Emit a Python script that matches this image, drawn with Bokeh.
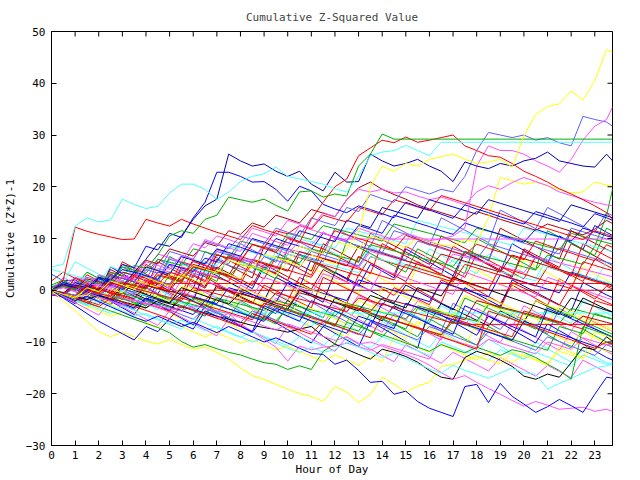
import math
from bokeh.plotting import figure
from bokeh.models import FixedTicker, Range1d, Title
from bokeh.embed import file_html
from bokeh.resources import INLINE

hours = [0, 0.5, 1, 1.5, 2, 2.5, 3, 3.5, 4, 4.5, 5, 5.5, 6, 6.5, 7, 7.5,
         8, 8.5, 9, 9.5, 10, 10.5, 11, 11.5, 12, 12.5, 13, 13.5, 14, 14.5, 15, 15.5,
         16, 16.5, 17, 17.5, 18, 18.5, 19, 19.5, 20, 20.5, 21, 21.5, 22, 22.5, 23, 23.5,
         23.75]
x_min, x_max = 0, 23.75
y_min, y_max = -30, 50
x_ticks = list(range(0, 24))
y_ticks = [-30, -20, -10, 0, 10, 20, 30, 40, 50]

RED = "#ff0000"; GREEN = "#00b000"; BLUE = "#0000ff"; LBLUE = "#6060ff"; NAVY = "#0000b0"
MAG = "#ff50ff"; CYAN = "#50ffff"; YEL = "#ffff00"; BLACK = "#000000"; DRED = "#b00000"

s01 = [0, -0.8, -1.5, 0.5, -0.3, 1.8, 1.0, 0.2,
       2.5, 1.6, 0.8, 3.0, 2.1, 1.2, 4.0, 3.1,
       2.2, 4.6, 3.8, 2.9, 5.5, 4.6, 6.8, 5.9,
       5.0, 8.0, 11.2, 20.0, 24.0, 23.0, 24.5, 24.0,
       25.3, 25.8, 26.3, 25.3, 24.5, 24.8, 25.3, 23.8,
       29.8, 34.0, 35.5, 36.0, 38.5, 36.8, 40.5, 46.5,
       46.0]
s02 = [4.5, 5.0, 12.4, 14.0, 13.2, 13.6, 17.6, 16.6,
       15.8, 16.2, 18.8, 20.5, 20.5, 19.5, 17.5, 19.0,
       21.0, 22.0, 22.5, 23.8, 22.0, 21.5, 21.0, 20.5,
       19.6, 19.0, 22.0, 26.0, 26.7, 27.0, 28.0, 27.0,
       26.0, 28.6, 28.6, 28.6, 28.6, 28.6, 28.6, 28.6,
       28.6, 28.6, 28.6, 28.6, 28.6, 28.6, 28.6, 28.6,
       28.6]
s03 = [0, 0.8, 0.2, 1.8, 1.2, 3.4, 2.8, 4.8,
       4.2, 6.8, 10.5, 11.5, 11.0, 13.7, 14.5, 18.0,
       17.5, 17.0, 17.6, 16.4, 15.3, 19.0, 19.2, 18.0,
       18.6, 18.2, 24.0, 26.3, 30.2, 29.2, 29.2, 29.2,
       29.2, 29.2, 29.2, 29.2, 29.2, 29.2, 29.2, 29.2,
       29.2, 29.2, 29.2, 29.2, 29.2, 29.2, 29.2, 29.2,
       29.2]
s04 = [0, -0.6, 0.8, 0.1, -0.6, 1.5, 0.8, 2.6,
       1.9, 1.2, 3.5, 2.8, 5.6, 4.8, 4.0, 6.5,
       5.7, 8.9, 8.1, 7.3, 10.0, 9.2, 13.7, 17.0,
       20.0, 21.5, 26.0, 27.5, 29.0, 28.5, 29.6, 28.6,
       29.0, 29.5, 30.0, 27.9, 27.0, 26.0, 25.7, 24.5,
       23.0, 22.0, 20.9, 19.6, 18.6, 17.5, 16.3, 15.0,
       13.7]
s05 = [0, 2.0, 12.2, 11.4, 10.8, 10.3, 9.8, 9.9,
       13.7, 13.0, 12.4, 13.7, 12.8, 12.0, 11.2, 10.5,
       9.8, 12.5, 11.7, 11.0, 10.2, 9.4, 8.7, 8.0,
       11.5, 10.7, 10.0, 9.3, 8.5, 7.8, 10.6, 9.8,
       9.0, 8.3, 7.5, 6.8, 8.9, 8.1, 7.4, 6.6,
       5.9, 9.5, 8.7, 7.9, 7.2, 6.4, 5.7, 8.8,
       8.3]
s06 = [0, -0.5, 1.0, 0.5, 2.5, 2.0, 4.0, 3.5,
       6.0, 9.0, 8.5, 10.5, 13.7, 16.3, 17.6, 26.3,
       25.0, 24.0, 24.4, 23.0, 22.0, 23.0, 20.5, 19.2,
       22.8, 20.9, 21.0, 26.3, 25.0, 24.0, 24.5, 25.3,
       24.0, 23.0, 21.0, 24.8, 24.0, 23.5, 24.5, 24.0,
       25.0, 25.5, 26.7, 25.0, 24.5, 24.0, 23.8, 26.3,
       25.0]
s07 = [0, 1.2, 0.5, -0.2, 2.4, 1.7, 5.0, 4.3,
       8.5, 7.8, 11.0, 10.2, 14.0, 17.0, 22.8, 22.8,
       22.0, 20.9, 21.0, 19.5, 17.2, 20.1, 19.2, 16.6,
       15.7, 15.0, 16.3, 15.6, 14.8, 14.0, 17.0, 16.2,
       15.5, 14.7, 13.9, 16.5, 15.7, 15.0, 14.2, 13.5,
       12.8, 15.2, 14.5, 13.7, 13.0, 12.2, 14.8, 14.0,
       13.5]
s08 = [0, -0.4, -1.0, 1.5, 0.8, 3.0, 2.3, 1.6,
       4.0, 3.3, 7.5, 6.8, 6.0, 9.5, 8.8, 8.0,
       10.5, 9.8, 9.0, 12.0, 11.2, 10.5, 14.0, 13.2,
       12.5, 16.0, 15.2, 18.5, 17.7, 17.0, 20.0, 19.3,
       18.6, 19.5, 19.0, 22.0, 27.0, 30.5, 30.0, 29.5,
       30.0, 29.0, 29.5, 28.5, 27.9, 33.6, 33.0, 32.5,
       31.7]
s09 = [0, 0.6, -0.2, 1.5, 0.8, 0.1, 2.8, 2.0,
       5.5, 4.8, 4.0, 6.7, 6.0, 9.8, 9.0, 8.2,
       7.5, 11.0, 10.2, 9.4, 8.7, 12.5, 11.7, 11.0,
       10.2, 9.5, 12.0, 11.2, 10.5, 9.8, 11.0, 10.3,
       9.6, 9.9, 10.5, 12.0, 24.0, 27.9, 27.0, 27.0,
       26.3, 25.0, 24.0, 22.8, 25.3, 29.0, 31.7, 33.0,
       35.4]
s10 = [0, -0.7, 1.2, 0.5, 3.0, 2.3, 1.6, 4.4,
       3.7, 7.0, 6.3, 5.5, 9.0, 8.2, 10.5, 9.8,
       9.0, 12.0, 11.3, 10.5, 13.5, 12.8, 12.0, 15.0,
       14.2, 17.5, 19.5, 19.0, 19.5, 18.8, 19.0, 18.2,
       17.5, 18.0, 17.3, 16.5, 19.0, 20.2, 19.5, 20.8,
       21.8, 21.0, 20.2, 19.0, 18.3, 17.6, 17.0, 16.5,
       16.3]
s11 = [0, -0.6, -1.2, -1.0, 0.8, 0.2, -0.5, 2.0,
       1.3, 0.6, 3.0, 2.3, 4.8, 4.1, 3.4, 5.8,
       5.1, 4.4, 7.0, 6.3, 5.6, 8.5, 7.8, 7.0,
       9.5, 8.8, 8.0, 10.5, 9.8, 9.0, 8.3, 10.2,
       9.5, 8.8, 8.5, 9.8, 9.2, 14.0, 21.8, 21.2,
       20.5, 20.9, 20.2, 19.5, 18.8, 19.0, 20.9, 20.3,
       20.1]
s12 = [0, 1.0, 0.4, 2.2, 1.6, 1.0, 3.5, 2.9,
       5.8, 5.1, 8.0, 7.3, 6.6, 9.2, 8.5, 11.5,
       10.8, 13.0, 12.2, 14.5, 13.8, 13.0, 15.6, 14.9,
       14.2, 17.5, 19.8, 20.9, 19.5, 18.5, 17.6, 16.5,
       15.7, 15.0, 14.3, 13.5, 15.2, 14.5, 13.7, 13.0,
       12.3, 11.6, 12.8, 12.1, 11.4, 10.7, 11.8, 13.5,
       12.9]
s13 = [0, -0.5, -1.0, 0.8, 0.2, -0.4, 1.5, 0.9,
       0.3, 3.0, 2.4, 1.8, 4.5, 3.9, 6.8, 6.2,
       5.6, 8.8, 8.2, 11.5, 10.9, 12.5, 11.8, 14.5,
       13.8, 13.2, 16.0, 15.3, 14.6, 17.5, 16.8, 16.1,
       15.4, 18.3, 17.6, 16.9, 16.2, 15.5, 14.8, 14.0,
       13.3, 12.6, 11.9, 11.2, 10.5, 9.8, 11.5, 10.8,
       10.4]
s14 = [0, 0.5, -0.2, 1.8, 1.1, 0.4, 2.5, 1.8,
       1.1, 4.2, 3.5, 2.8, 5.5, 4.8, 7.8, 7.1,
       6.4, 5.7, 8.5, 7.8, 7.1, 9.5, 8.8, 11.3,
       9.9, 9.9, 9.9, 9.9, 9.9, 9.9, 9.9, 9.9,
       9.9, 9.9, 9.9, 9.9, 9.9, 9.9, 9.9, 9.9,
       9.9, 9.9, 9.9, 9.9, 9.9, 9.9, 9.9, 9.9,
       9.9]
s15 = [0, 1.5, 0.8, 0.1, 2.2, 1.5, 0.8, 3.5,
       2.8, 2.1, 5.0, 4.3, 3.6, 6.2, 5.5, 9.0,
       8.3, 7.5, 6.8, 10.0, 9.2, 8.5, 7.8, 11.0,
       10.3, 9.6, 12.5, 11.8, 11.0, 14.5, 13.8, 13.0,
       12.3, 11.5, 10.8, 13.0, 12.2, 11.5, 10.8, 10.0,
       9.3, 11.8, 11.0, 10.3, 9.5, 12.0, 11.3, 10.5,
       10.2]
s16 = [0, -0.8, 0.5, -0.2, -0.9, 1.0, 0.3, -0.4,
       2.5, 1.8, 1.1, 4.0, 3.3, 2.6, 5.5, 4.8,
       4.1, 3.4, 6.5, 5.8, 5.1, 4.4, 7.5, 6.8,
       6.1, 5.4, 4.7, 8.0, 7.3, 6.6, 5.9, 9.5,
       8.8, 8.1, 7.4, 6.7, 6.0, 9.0, 8.3, 7.6,
       6.9, 6.2, 5.5, 8.2, 7.5, 6.8, 6.1, 5.4,
       5.1]
s17 = [0, -0.6, -1.2, 0.5, -0.1, 2.0, 1.4, 0.8,
       0.2, 2.8, 2.2, 1.6, 4.5, 3.9, 3.3, 2.7,
       5.0, 4.4, 3.8, 6.5, 5.9, 5.3, 8.0, 7.4,
       6.8, 6.2, 5.6, 8.8, 8.2, 7.6, 7.0, 6.4,
       5.8, 5.2, 4.6, 7.5, 6.9, 6.3, 5.7, 5.1,
       4.5, 3.9, 6.8, 6.2, 5.6, 5.0, 8.5, 14.5,
       19.5]
s18 = [4.0, 3.4, 2.8, 2.2, 1.6, 4.5, 3.9, 3.3,
       2.7, 2.1, 5.5, 4.9, 4.3, 3.7, 3.1, 6.0,
       5.4, 4.8, 4.2, 3.6, 7.0, 6.4, 5.8, 5.2,
       4.6, 4.0, 3.4, 6.5, 5.9, 5.3, 4.7, 4.1,
       3.5, 2.9, 6.0, 5.4, 4.8, 4.2, 3.6, 3.0,
       2.4, 1.8, 4.5, 3.9, 3.3, 2.7, 2.1, 1.5,
       1.2]
s19 = [0, -0.7, -1.4, 1.0, 0.3, 3.5, 2.8, 2.1,
       1.4, 0.7, 0.0, 4.5, 3.8, 3.1, 2.4, 1.7,
       5.5, 4.8, 4.1, 3.4, 7.0, 6.3, 5.6, 4.9,
       4.2, 3.5, 2.8, 6.5, 5.8, 5.1, 4.4, 3.7,
       3.0, 2.3, 1.6, 5.0, 4.3, 3.6, 2.9, 2.2,
       1.5, 0.8, 4.5, 3.8, 3.1, 2.4, 1.7, 1.0,
       0.6]
s20 = [0, -0.6, -1.2, -1.8, 0.5, -0.1, -0.7, 1.5,
       0.9, 0.3, -0.3, 0, 0, 0, 0, 0,
       0, 0, 0, 0, 0, 0, 0, 0,
       0, 0, 0, 0, 0, 0, 0, 0,
       0, 0, 0, 0, 0, 0, 0, 0,
       0, 0, 0, 0, 0, 0, 0, 0,
       0]
s21 = [0, 0.8, 0.2, 1.3, 1.3, 1.3, 1.3, 1.3,
       1.3, 1.3, 1.3, 1.3, 1.3, 1.3, 1.3, 1.3,
       1.3, 1.3, 1.3, 1.3, 1.3, 1.3, 1.3, 1.3,
       1.3, 1.3, 1.3, 1.3, 1.3, 1.3, 1.3, 1.3,
       1.3, 1.3, 1.3, 1.3, 1.3, 1.3, 1.3, 1.3,
       1.3, 1.3, 1.3, 1.3, 1.3, 1.3, 1.3, 1.3,
       1.3]
s22 = [0, -0.5, -1.0, -1.5, -2.0, 0.5, 0.0, -0.5,
       -1.0, -1.5, -2.0, -2.5, -3.0, -4.4, -4.4, -4.4,
       -4.4, -4.4, -4.4, -4.4, -4.4, -4.4, -4.4, -4.4,
       -4.4, -4.4, -4.4, -4.4, -4.4, -4.4, -4.4, -4.4,
       -4.4, -4.4, -4.4, -4.4, -4.4, -4.4, -4.4, -4.4,
       -4.4, -4.4, -4.4, -4.4, -4.4, -4.4, -4.4, -4.4,
       -4.4]
s23 = [0, 1.2, 0.6, 0.0, -0.6, -1.2, 1.0, 0.4,
       -0.2, -0.8, -1.4, -2.0, 0.5, -0.1, -0.7, -1.3,
       -1.9, -2.5, -3.1, -0.5, -1.1, -1.7, -2.3, -2.9,
       -3.5, -4.1, -1.5, -2.1, -2.7, -3.3, -3.9, -4.5,
       -5.1, -5.7, -6.3, -6.6, -6.6, -6.6, -6.6, -6.6,
       -6.6, -6.6, -6.6, -6.6, -6.6, -6.6, -6.6, -6.6,
       -6.6]
s24 = [0, -2.0, -4.0, -6.0, -8.0, -9.0, -8.1, -9.0,
       -9.8, -10.4, -9.5, -10.5, -11.4, -11.0, -12.0, -13.3,
       -15.0, -16.5, -17.2, -18.2, -19.1, -20.0, -20.5, -21.5,
       -18.6, -19.7, -21.7, -20.1, -16.8, -18.2, -19.7, -18.5,
       -17.8, -14.7, -14.3, -13.5, -12.8, -13.5, -14.2, -12.0,
       -12.7, -13.4, -14.1, -11.8, -12.5, -13.2, -11.0, -11.7,
       -12.1]
s25 = [0, -0.8, -1.6, -0.5, -1.3, -2.1, -2.9, -1.8,
       -2.6, -3.4, -4.2, -3.0, -3.8, -4.6, -5.4, -4.5,
       -5.3, -6.1, -6.9, -7.7, -6.5, -7.3, -8.1, -8.9,
       -9.7, -9.0, -10.4, -10.0, -10.8, -11.6, -12.4, -13.3,
       -14.5, -15.9, -17.2, -16.5, -17.8, -19.0, -20.1, -21.3,
       -22.4, -21.5, -22.2, -23.0, -22.8, -22.6, -23.4, -23.0,
       -23.4]
s26 = [0, -1.0, -2.0, -1.2, -2.2, -3.2, -4.2, -5.2,
       -6.0, -5.0, -6.0, -7.0, -6.2, -7.2, -8.2, -7.0,
       -8.0, -9.0, -10.0, -9.2, -10.2, -11.2, -12.2, -12.4,
       -14.3, -13.5, -15.5, -17.8, -17.6, -20.1, -19.5, -21.5,
       -22.8, -23.6, -24.4, -18.6, -18.2, -21.7, -18.0, -20.5,
       -22.0, -23.6, -22.5, -21.1, -22.3, -23.6, -20.1, -16.8,
       -17.0]
s27 = [0, -1.5, -3.0, -4.5, -6.0, -7.2, -8.4, -9.6,
       -7.0, -8.0, -5.5, -6.5, -7.5, -4.0, -5.0, -6.0,
       -7.0, -8.0, -3.0, -4.0, -5.0, -6.0, -2.0, -3.0,
       -4.0, -5.0, -6.0, -7.0, -2.5, -3.5, -4.5, -5.5,
       -6.5, -7.5, -8.5, -3.0, -4.0, -5.0, -6.0, -7.0,
       -8.0, -9.0, -3.5, -4.5, -5.5, -6.5, -7.5, -8.5,
       -9.0]
s28 = [0, -0.6, -1.2, -1.8, -1.0, -1.6, -2.2, -2.8,
       -3.4, -2.0, -2.6, -3.2, -3.8, -4.4, -5.0, -5.6,
       -6.2, -6.8, -7.2, -7.6, -8.1, -7.5, -7.0, -8.9,
       -10.4, -11.4, -12.4, -13.3, -11.4, -12.0, -12.8, -13.9,
       -15.5, -16.8, -17.2, -13.0, -11.8, -12.5, -13.5, -14.7,
       -16.6, -17.2, -16.2, -16.8, -14.0, -11.0, -11.5, -9.0,
       -9.9]
s29 = [0, -1.0, -2.0, -3.0, -2.0, -3.0, -4.0, -5.0,
       -4.5, -5.5, -6.5, -5.8, -6.8, -7.8, -7.0, -8.0,
       -9.0, -10.0, -9.2, -10.2, -11.2, -12.0, -11.0, -12.0,
       -11.5, -10.0, -11.0, -12.0, -13.0, -12.2, -13.2, -14.2,
       -15.2, -16.0, -14.5, -15.5, -16.2, -17.0, -16.0, -15.0,
       -16.0, -16.2, -19.1, -18.0, -17.0, -16.0, -15.0, -14.6,
       -14.3]
s30 = [0, -0.8, -1.6, -2.4, -3.2, -4.0, -4.8, -5.6,
       -6.4, -7.2, -8.2, -9.9, -11.0, -10.5, -11.3, -12.0,
       -12.5, -13.3, -14.0, -14.3, -15.3, -14.6, -15.3, -11.8,
       -10.4, -6.2, -7.0, -7.8, -8.6, -9.4, -10.2, -11.0,
       -11.8, -10.5, -11.3, -12.1, -11.0, -11.8, -12.6, -11.5,
       -12.0, -13.0, -14.3, -15.5, -17.2, -7.0, -7.8, -8.6,
       -9.0]
s31 = [0, -0.5, -1.0, -1.5, -2.0, -1.0, -1.5, -2.0,
       -2.5, -3.0, -3.5, -4.0, -3.0, -3.5, -4.0, -4.5,
       -6.5, -8.0, -9.5, -11.0, -13.7, -10.8, -11.5, -11.0,
       -10.8, -10.2, -10.9, -11.6, -10.5, -11.2, -11.9, -12.6,
       -13.3, -9.0, -9.7, -10.4, -11.1, -9.5, -10.2, -10.9,
       -11.6, -12.3, -10.0, -10.7, -11.4, -9.2, -9.9, -10.6,
       -10.4]
s32 = [0, -0.6, -1.2, -1.8, -0.5, -1.1, -1.7, -2.3,
       -2.9, -1.0, -1.6, -2.2, -2.8, -3.4, -1.5, -2.1,
       -2.7, -3.3, -3.9, -2.0, -2.6, -3.2, -3.8, -4.4,
       -5.0, -2.5, -3.1, -3.7, -4.3, -4.9, -5.5, -3.0,
       -3.6, -4.2, -4.8, -5.4, -6.0, -2.8, -3.4, -4.0,
       -4.6, -5.2, -5.8, -6.4, -3.5, -4.1, -4.7, -5.3,
       -5.6]
s33 = [0, 0.8, 0.1, -0.6, -1.3, 1.0, 0.3, -0.4,
       -1.1, -1.8, -2.5, -0.5, -1.2, -1.9, -2.6, 0.5,
       -0.2, -0.9, -1.6, -2.3, 1.5, 0.8, 0.1, -0.6,
       -1.3, -2.0, 2.0, 1.3, 0.6, -0.1, -0.8, -1.5,
       -2.2, 1.5, 0.8, 0.1, -0.6, -1.3, 3.0, 2.3,
       1.6, 0.9, 0.2, -0.5, 3.5, 2.8, 2.1, 1.4,
       1.0]
s34 = [0, -0.9, -1.8, -2.7, -1.0, -1.9, -2.8, -3.7,
       -2.0, -2.9, -3.8, -4.7, -5.6, -3.5, -4.4, -5.3,
       -6.2, -4.0, -4.9, -5.8, -6.7, -7.6, -5.0, -5.9,
       -6.8, -7.7, -8.6, -6.0, -6.9, -7.8, -8.7, -9.6,
       -7.0, -7.9, -8.8, -9.7, -10.6, -8.0, -8.9, -9.8,
       -10.7, -11.6, -9.0, -9.9, -10.8, -11.7, -12.6, -10.5,
       -11.0]
s35 = [0, -0.7, -1.4, -2.1, -2.8, -0.5, -1.2, -1.9,
       -2.6, -3.3, -4.0, -1.5, -2.2, -2.9, -3.6, -4.3,
       -5.0, -5.7, -2.5, -3.2, -3.9, -4.6, -5.3, -6.0,
       -6.7, -3.0, -3.7, -4.4, -5.1, -5.8, -6.5, -7.2,
       -7.9, -8.6, -5.5, -6.2, -6.9, -7.6, -8.3, -9.0,
       -4.0, -4.7, -5.4, -6.1, -6.8, -7.5, -2.0, -2.7,
       -3.0]
s36 = [0, -1.0, -2.0, -3.0, -4.0, -5.0, -4.2, -5.2,
       -6.2, -7.2, -6.0, -7.0, -8.0, -9.0, -8.2, -9.2,
       -10.2, -9.5, -10.5, -11.5, -10.8, -11.8, -12.8, -13.8,
       -12.5, -13.5, -14.5, -12.8, -13.8, -9.0, -10.0, -11.0,
       -12.0, -10.5, -11.5, -12.5, -13.5, -12.0, -13.0, -14.0,
       -12.5, -13.5, -14.5, -11.0, -12.0, -13.0, -8.0, -9.0,
       -9.5]
s37 = [0, -0.9, -1.8, -2.7, -3.6, -4.5, -3.0, -3.9,
       -4.8, -5.7, -6.6, -7.5, -5.5, -6.4, -7.3, -8.2,
       -9.1, -8.0, -8.9, -9.8, -10.7, -9.0, -9.9, -10.8,
       -8.5, -9.4, -10.3, -11.2, -9.0, -9.9, -10.8, -11.7,
       -12.6, -10.0, -10.9, -11.8, -12.7, -13.6, -11.5, -12.4,
       -13.3, -12.0, -12.9, -13.8, -14.7, -12.5, -13.4, -14.3,
       -14.0]
s38 = [0, 0.5, -0.3, -1.1, 1.5, 0.7, -0.1, -0.9,
       2.0, 1.2, 0.4, -0.4, -1.2, 1.8, 1.0, 0.2,
       -0.6, -1.4, 2.5, 1.7, 0.9, 0.1, -0.7, 3.2,
       2.4, 1.6, 0.8, 0.0, 4.0, 3.2, 2.4, 1.6,
       0.8, 0.0, -0.8, 3.5, 2.7, 1.9, 1.1, 0.3,
       -0.5, -1.3, 2.5, 1.7, 0.9, 0.1, -0.7, -1.5,
       -1.8]
s39 = [0, 1.5, 0.9, 0.3, 2.8, 2.2, 4.5, 3.9,
       3.3, 6.0, 5.4, 4.8, 8.0, 7.4, 6.8, 6.2,
       9.5, 8.9, 8.3, 7.7, 11.0, 10.4, 9.8, 12.5,
       11.9, 11.3, 10.7, 10.1, 9.5, 12.8, 12.2, 11.6,
       11.0, 10.4, 9.8, 9.2, 12.0, 11.4, 10.8, 10.2,
       9.6, 9.0, 8.4, 7.8, 11.0, 10.4, 9.8, 9.2,
       8.9]
s40 = [0, -0.8, 1.0, 0.3, -0.4, 2.5, 1.8, 1.1,
       0.4, 3.5, 2.8, 2.1, 5.0, 4.3, 3.6, 2.9,
       6.5, 5.8, 5.1, 4.4, 3.7, 7.5, 6.8, 6.1,
       5.4, 4.7, 8.5, 7.8, 7.1, 6.4, 5.7, 5.0,
       4.3, 7.0, 6.3, 5.6, 4.9, 4.2, 3.5, 6.8,
       6.1, 5.4, 4.7, 4.0, 3.3, 2.6, 1.9, 1.2,
       0.9]
s41 = [0, 0.9, 0.2, -0.5, 1.8, 1.1, 0.4, 3.0,
       2.3, 1.6, 0.9, 5.5, 4.8, 4.1, 3.4, 2.7,
       2.0, 6.0, 5.3, 4.6, 3.9, 3.2, 2.5, 6.2,
       5.5, 4.8, 4.1, 3.4, 2.7, 2.0, 5.0, 4.3,
       3.6, 2.9, 2.2, 1.5, 0.8, 0.1, 4.5, 3.8,
       3.1, 2.4, 1.7, 1.0, 0.3, 5.5, 4.8, 4.1,
       3.8]
s42 = [0, -0.8, -1.6, -0.2, -1.0, -1.8, -2.6, -3.4,
       -1.5, -2.3, -3.1, -3.9, -4.7, -2.0, -2.8, -3.6,
       -4.4, -5.2, -6.0, -3.5, -4.3, -5.1, -5.9, -6.7,
       -7.5, -8.3, -5.0, -5.8, -6.6, -7.4, -2.5, -3.3,
       -4.1, -4.9, -5.7, -6.5, -7.3, -8.1, -8.9, -9.7,
       -6.0, -6.8, -7.6, -8.4, -9.2, -10.0, -10.8, -11.6,
       -12.0]
s43 = [0, -0.9, -1.8, 0.5, -0.4, -1.3, 1.5, 0.6,
       -0.3, -1.2, -2.1, 0.8, -0.1, -1.0, -1.9, -2.8,
       0.5, -0.4, -1.3, -2.2, -3.1, 1.0, 0.1, -0.8,
       -1.7, -2.6, -3.5, -4.4, 0.5, -0.4, -1.3, -2.2,
       -3.1, -4.0, -4.9, -1.0, -1.9, -2.8, -3.7, -4.6,
       -5.5, -2.0, -2.9, -3.8, -4.7, -5.6, -6.5, -7.4,
       -7.8]
s44 = [0, 1.0, 0.3, 2.5, 1.8, 1.1, 0.4, 3.5,
       2.8, 2.1, 6.0, 5.3, 4.6, 3.9, 7.5, 6.8,
       6.1, 5.4, 9.0, 8.3, 7.6, 6.9, 6.2, 5.5,
       10.0, 9.3, 8.6, 7.9, 7.2, 11.5, 10.8, 10.1,
       9.4, 8.7, 8.0, 7.3, 6.6, 5.9, 10.5, 9.8,
       9.1, 8.4, 7.7, 7.0, 12.0, 11.3, 10.6, 9.9,
       9.6]
s45 = [0, 1.5, 0.9, 0.3, 3.0, 2.4, 1.8, 1.2,
       4.5, 3.9, 3.3, 6.5, 5.9, 5.3, 4.7, 8.5,
       7.9, 7.3, 6.7, 6.1, 10.5, 9.9, 9.3, 8.7,
       8.1, 12.0, 11.4, 10.8, 10.2, 9.6, 9.0, 13.5,
       12.9, 12.3, 11.7, 11.1, 10.5, 9.9, 9.3, 8.7,
       12.0, 11.4, 10.8, 10.2, 9.6, 9.0, 8.4, 7.8,
       7.5]
s46 = [0, -0.8, 0.5, -0.3, -1.1, -1.9, 0.8, 0.0,
       -0.8, -1.6, -2.4, 0.5, -0.3, -1.1, -1.9, -2.7,
       -0.5, -1.3, -2.1, -2.9, -3.7, 0.0, -0.8, -1.6,
       -2.4, -3.2, -4.0, -1.0, -1.8, -2.6, -3.4, 0.5,
       -0.3, -1.1, 2.5, 1.7, 0.9, 0.1, -0.7, -1.5,
       -2.3, -3.1, -3.9, -4.7, -1.5, -2.3, -3.1, -3.9,
       -4.2]
s47 = [0, 0.8, 0.1, -0.6, -1.3, -2.0, -0.5, -1.2,
       -1.9, -2.6, -3.3, -4.0, -1.5, -2.2, -2.9, -3.6,
       -4.3, -5.0, -5.7, -3.0, -3.7, -4.4, -5.1, -5.8,
       -6.5, -7.2, -7.9, -4.5, -5.2, -5.9, -6.6, -7.3,
       -8.0, -8.7, -6.0, -6.7, -7.4, -8.1, -8.8, -9.5,
       -10.2, -10.9, -11.6, -7.0, -7.7, -8.4, -4.5, -5.2,
       -5.5]
s48 = [0, -0.8, -1.6, -2.4, -3.2, -1.5, -2.3, -3.1,
       -3.9, -4.7, -5.5, -3.0, -3.8, -4.6, -5.4, -6.2,
       -7.0, -4.5, -5.3, -6.1, -6.9, -7.7, -8.5, -6.0,
       -6.8, -7.6, -8.4, -9.2, -5.0, -5.8, -6.6, -7.4,
       -8.2, -9.0, -9.8, -10.6, -11.4, -4.0, -4.8, -5.6,
       -6.4, -7.2, -8.0, -8.8, -9.6, -10.4, -11.2, -10.0,
       -10.4]
s49 = [0, -0.6, -1.2, 0.8, 0.2, -0.4, -1.0, -1.6,
       1.0, 0.4, -0.2, -0.8, -1.4, -2.0, 0.5, -0.1,
       -0.7, -1.3, -1.9, -2.5, -3.1, -0.5, -1.1, -1.7,
       -2.3, -2.9, -3.5, -4.1, -1.5, -2.1, -2.7, -3.3,
       -3.9, -4.5, -5.1, -5.7, -2.0, -2.6, -3.2, -3.8,
       -4.4, -5.0, -5.6, -6.2, -6.8, -5.0, -5.6, -6.2,
       -6.5]
s50 = [0, 0.6, 2.5, 1.9, 1.3, 0.7, 3.5, 2.9,
       2.3, 1.7, 5.0, 4.4, 3.8, 3.2, 2.6, 6.5,
       5.9, 5.3, 4.7, 4.1, 8.0, 7.4, 6.8, 6.2,
       5.6, 5.0, 4.4, 7.5, 6.9, 6.3, 5.7, 5.1,
       4.5, 3.9, 7.0, 6.4, 5.8, 5.2, 4.6, 4.0,
       3.4, 6.5, 5.9, 5.3, 4.7, 4.1, 3.5, 2.9,
       2.6]
s51 = [0, -0.7, 1.5, 0.8, 0.1, 3.0, 2.3, 1.6,
       4.5, 3.8, 3.1, 6.5, 5.8, 5.1, 8.0, 7.3,
       6.6, 10.0, 9.3, 8.6, 7.9, 11.5, 10.8, 10.1,
       9.4, 13.5, 12.8, 12.1, 16.0, 15.3, 14.6, 13.9,
       17.5, 16.8, 16.1, 15.4, 14.7, 17.5, 16.8, 16.1,
       15.4, 14.7, 14.0, 13.3, 16.5, 15.8, 15.1, 14.4,
       14.0]

n01 = [-0.7, -1.2, 1.5, 0.2, -1.0, 3.2, 1.8, 0.5,
       -0.8, 2.0, 0.7, -0.6, 4.0, 2.6, 1.3, 0.0,
       -1.2, 1.8, 0.5, -0.8, -2.0, 2.5, 1.2, -0.1,
       -1.4, -2.6, 3.0, 1.6, 0.3, -1.0, 1.5, 0.2,
       -1.1, -2.4, 2.8, 1.4, 0.1, -1.2, -2.5, 1.0,
       -0.3, -1.6, -2.9, 2.2, 0.9, -0.4, -1.7, 0.8,
       0.2]
n02 = [0.4, 1.5, 0.2, -1.1, -2.4, -1.0, -2.3, -3.5,
       0.5, -0.8, -2.1, -3.4, -1.5, -2.8, -4.1, -5.3,
       -2.0, -3.3, -4.6, -5.9, -3.5, -4.8, -6.0, -7.2,
       -4.0, -5.3, -6.6, -7.9, -9.0, -6.5, -7.8, -9.0,
       -5.5, -6.8, -8.1, -9.4, -10.6, -7.0, -8.3, -9.6,
       -6.0, -7.3, -8.6, -9.9, -11.1, -7.5, -8.8, -10.0,
       -10.6]
n03 = [3.1, 1.8, 2.0, 0.7, -0.6, 4.5, 3.2, 1.9,
       0.6, -0.7, 3.0, 1.7, 0.4, 5.5, 4.2, 2.9,
       1.6, 0.3, 4.5, 3.2, 1.9, 0.6, 6.0, 4.7,
       3.4, 2.1, 0.8, 5.0, 3.7, 2.4, 8.0, 6.7,
       5.4, 4.1, 2.8, 7.5, 6.2, 4.9, 3.6, 9.0,
       7.7, 6.4, 5.1, 10.5, 9.2, 7.9, 12.5, 11.2,
       10.6]
n04 = [-0.9, 2.5, 1.2, -0.1, -1.4, 1.8, 0.5, -0.8,
       -2.1, -3.3, 0.5, -0.8, -2.1, -3.4, -4.6, -1.0,
       -2.3, -3.6, -4.9, -1.5, -2.8, -4.1, -5.4, -6.6,
       -3.0, -4.3, -5.6, -6.9, -8.1, -4.5, -5.8, -7.1,
       -8.4, -9.6, -5.0, -6.3, -7.6, -8.9, -10.1, -6.5,
       -7.8, -9.1, -10.4, -11.6, -8.0, -9.3, -10.6, -11.8,
       -12.4]
n05 = [3.0, 1.7, 0.4, 3.5, 2.2, 0.9, -0.4, -1.7,
       1.5, 0.2, -1.1, -2.4, -3.6, 0.0, -1.3, -2.6,
       -3.9, -5.1, -2.0, -3.3, -4.6, -5.9, -7.1, -4.0,
       -5.3, -6.6, -7.9, -9.1, -6.0, -7.3, -8.6, -9.9,
       -11.1, -8.0, -9.3, -10.6, -11.9, -9.5, -10.8, -12.1,
       -13.3, -10.0, -11.3, -12.6, -13.9, -11.5, -12.8, -14.0,
       -14.5]
n06 = [-0.5, -1.2, -2.4, 1.0, -0.3, -1.6, 2.5, 1.2,
       -0.1, -1.4, 3.0, 1.7, 0.4, -0.9, -2.2, 1.5,
       0.2, -1.1, -2.4, 2.0, 0.7, -0.6, 4.5, 3.2,
       1.9, 0.6, -0.7, 3.5, 2.2, 0.9, -0.4, 5.0,
       3.7, 2.4, 1.1, -0.2, 4.0, 2.7, 1.4, 0.1,
       6.0, 4.7, 3.4, 2.1, 0.8, 4.5, 3.2, 1.9,
       1.3]
n07 = [-0.8, -1.1, -2.2, -0.5, -1.6, -2.7, 0.5, -0.6,
       -1.7, -2.8, -3.9, -1.0, -2.1, -3.2, 1.0, -0.1,
       -1.2, -2.3, -3.4, -4.5, -2.0, -3.1, -4.2, -5.3,
       -1.5, -2.6, -3.7, -4.8, -5.9, -3.0, -4.1, -5.2,
       -6.3, -2.5, -3.6, -4.7, -5.8, -6.9, -4.0, -5.1,
       -6.2, -2.0, -3.1, -4.2, -5.3, -1.5, -2.6, -3.7,
       -4.2]
n08 = [0.6, 1.8, 0.6, -0.6, 2.5, 1.3, 0.1, 3.5,
       2.3, 1.1, -0.1, 2.8, 1.6, 0.4, 4.5, 3.3,
       2.1, 0.9, 5.0, 3.8, 2.6, 1.4, 0.2, 4.0,
       2.8, 1.6, 6.5, 5.3, 4.1, 2.9, 1.7, 5.5,
       4.3, 3.1, 1.9, 7.5, 6.3, 5.1, 3.9, 2.7,
       8.0, 6.8, 5.6, 4.4, 9.0, 7.8, 6.6, 5.4,
       4.8]
n09 = [-0.6, -1.3, 1.0, -0.3, -1.6, -2.9, -0.5, -1.8,
       -3.1, 0.5, -0.8, -2.1, -3.4, -4.6, -1.5, -2.8,
       -4.1, -5.4, -2.5, -3.8, -5.1, -1.0, -2.3, -3.6,
       -4.9, -6.1, -3.0, -4.3, -5.6, -6.9, -4.0, -5.3,
       -6.6, -7.9, -2.5, -3.8, -5.1, -6.4, -7.6, -4.5,
       -5.8, -7.1, -8.4, -3.5, -4.8, -6.1, -7.4, -8.6,
       -9.1]
n10 = [1.8, 3.5, 2.3, 1.1, -0.1, 2.8, 1.6, 0.4,
       5.0, 3.8, 2.6, 1.4, 6.0, 4.8, 3.6, 2.4,
       1.2, 5.5, 4.3, 3.1, 1.9, 7.0, 5.8, 4.6,
       3.4, 2.2, 6.5, 5.3, 4.1, 2.9, 8.5, 7.3,
       6.1, 4.9, 3.7, 2.5, 7.0, 5.8, 4.6, 3.4,
       2.2, 6.5, 5.3, 4.1, 2.9, 1.7, 6.0, 4.8,
       4.2]
n11 = [-0.9, -1.0, -2.0, -3.0, 0.5, -0.5, -1.5, -2.5,
       -3.5, -1.0, -2.0, -3.0, -4.0, -5.0, -1.5, -2.5,
       -3.5, -4.5, -5.5, -6.5, -3.0, -4.0, -5.0, -6.0,
       -7.0, -2.5, -3.5, -4.5, -5.5, -6.5, -7.5, -3.5,
       -4.5, -5.5, -6.5, -1.5, -2.5, -3.5, -4.5, -5.5,
       -6.5, -7.5, -3.0, -4.0, -5.0, -6.0, -7.0, -8.0,
       -8.5]
n12 = [-0.4, 1.0, -0.2, -1.4, 2.5, 1.3, 0.1, -1.1,
       -2.3, 1.5, 0.3, -0.9, -2.1, 4.0, 2.8, 1.6,
       0.4, -0.8, -2.0, 2.5, 1.3, 0.1, -1.1, -2.3,
       3.5, 2.3, 1.1, -0.1, -1.3, -2.5, 1.0, -0.2,
       -1.4, -2.6, -3.8, 0.5, -0.7, -1.9, -3.1, 2.0,
       0.8, -0.4, -1.6, -2.8, -4.0, 1.5, 0.3, -0.9,
       -1.4]
n13 = [-0.3, -0.9, 1.8, 0.6, -0.6, -1.8, 3.0, 1.8,
       0.6, -0.6, -1.8, 2.0, 0.8, -0.4, -1.6, -2.8,
       1.0, -0.2, -1.4, -2.6, -3.8, 0.5, -0.7, -1.9,
       -3.1, -4.3, -1.0, -2.2, -3.4, -4.6, -5.8, -2.0,
       -3.2, -4.4, -5.6, -6.8, -3.5, -4.7, -5.9, -7.1,
       -3.0, -4.2, -5.4, -6.6, -7.8, -5.0, -6.2, -7.4,
       -8.0]
n14 = [0.8, 1.5, 5.5, 4.3, 3.1, 1.9, 0.7, 4.0,
       2.8, 1.6, 6.5, 5.3, 4.1, 2.9, 8.0, 6.8,
       5.6, 4.4, 3.2, 7.5, 6.3, 5.1, 9.5, 8.3,
       7.1, 5.9, 4.7, 8.5, 7.3, 6.1, 4.9, 3.7,
       8.0, 6.8, 5.6, 4.4, 3.2, 7.0, 5.8, 4.6,
       3.4, 2.2, 6.5, 5.3, 4.1, 2.9, 1.7, 5.5,
       5.0]
n15 = [-0.7, -1.2, -2.4, -3.6, -1.5, -2.7, -3.9, -5.1,
       -2.0, -3.2, -4.4, -5.6, -6.8, -4.0, -5.2, -6.4,
       -7.6, -3.5, -4.7, -5.9, -7.1, -8.3, -5.5, -6.7,
       -7.9, -9.1, -4.5, -5.7, -6.9, -8.1, -9.3, -6.0,
       -7.2, -8.4, -9.6, -10.8, -6.5, -7.7, -8.9, -10.1,
       -5.5, -6.7, -7.9, -9.1, -10.3, -8.0, -9.2, -10.4,
       -11.0]
n16 = [-0.8, -1.0, 2.5, 1.3, 0.1, 4.0, 2.8, 1.6,
       0.4, 5.5, 4.3, 3.1, 1.9, 0.7, 6.0, 4.8,
       3.6, 2.4, 8.5, 7.3, 6.1, 4.9, 3.7, 9.0,
       7.8, 6.6, 5.4, 11.0, 9.8, 8.6, 7.4, 6.2,
       5.0, 10.5, 9.3, 8.1, 6.9, 5.7, 12.0, 10.8,
       9.6, 8.4, 7.2, 6.0, 11.5, 10.3, 9.1, 7.9,
       7.4]
n17 = [-0.9, -1.3, -2.6, 0.5, -0.8, -2.1, -3.4, -4.7,
       -1.5, -2.8, -4.1, -5.4, -6.7, -3.0, -4.3, -5.6,
       -6.9, -8.2, -5.0, -6.3, -7.6, -8.9, -10.2, -7.0,
       -8.3, -9.6, -10.9, -6.0, -7.3, -8.6, -9.9, -11.2,
       -3.5, -4.8, -6.1, -7.4, -8.7, -5.0, -6.3, -7.6,
       -8.9, -10.2, -6.5, -7.8, -9.1, -10.4, -11.7, -13.0,
       -13.5]
n18 = [1.0, 2.0, 0.8, 3.5, 2.3, 1.1, 5.0, 3.8,
       2.6, 1.4, 6.5, 5.3, 4.1, 2.9, 1.7, 7.0,
       5.8, 4.6, 3.4, 2.2, 8.0, 6.8, 5.6, 4.4,
       3.2, 9.5, 8.3, 7.1, 5.9, 4.7, 3.5, 8.0,
       6.8, 5.6, 4.4, 3.2, 10.0, 8.8, 7.6, 6.4,
       5.2, 4.0, 11.5, 10.3, 9.1, 7.9, 6.7, 12.0,
       11.4]
n19 = [-0.6, -1.1, -2.2, 1.5, 0.4, -0.7, -1.8, 2.8,
       1.7, 0.6, -0.5, -1.6, 3.0, 1.9, 0.8, -0.3,
       -1.4, -2.5, 1.0, -0.1, -1.2, -2.3, -3.4, 2.5,
       1.4, 0.3, -0.8, -1.9, -3.0, 0.5, -0.6, -1.7,
       -2.8, 2.0, 0.9, -0.2, -1.3, -2.4, -3.5, 1.5,
       0.4, -0.7, -1.8, -2.9, 1.0, -0.1, -1.2, -2.3,
       -2.8]
n20 = [-0.8, -1.2, -2.4, -3.6, -4.8, -2.0, -3.2, -4.4,
       -5.6, -6.8, -4.0, -5.2, -6.4, -7.6, -8.8, -5.5,
       -6.7, -7.9, -9.1, -10.3, -7.0, -8.2, -9.4, -10.6,
       -11.8, -9.0, -10.2, -11.4, -12.6, -13.8, -10.5, -11.7,
       -12.9, -14.1, -12.0, -13.2, -14.4, -15.6, -13.0, -14.2,
       -15.4, -16.6, -14.5, -15.7, -16.9, -13.5, -14.7, -15.9,
       -16.4]
n21 = [0.2, 1.2, 0.0, -1.2, -2.4, 1.0, -0.2, -1.4,
       -2.6, -3.8, 0.5, -0.7, -1.9, -3.1, -4.3, -1.0,
       -2.2, -3.4, -4.6, -0.5, -1.7, -2.9, -4.1, -5.3,
       -2.0, -3.2, -4.4, -5.6, -1.5, -2.7, -3.9, -5.1,
       -6.3, -3.0, -4.2, -5.4, -6.6, -2.5, -3.7, -4.9,
       -6.1, -7.3, -4.0, -5.2, -6.4, -2.0, -3.2, -4.4,
       -5.0]
n22 = [0.5, 1.5, 0.3, -0.9, 2.5, 1.3, 4.5, 3.3,
       2.1, 6.0, 4.8, 3.6, 2.4, 7.5, 6.3, 5.1,
       9.0, 7.8, 6.6, 5.4, 10.5, 9.3, 8.1, 6.9,
       12.0, 10.8, 9.6, 8.4, 13.5, 12.3, 11.1, 9.9,
       8.7, 14.0, 12.8, 11.6, 10.4, 9.2, 15.5, 14.3,
       13.1, 11.9, 16.0, 14.8, 13.6, 12.4, 11.2, 15.0,
       14.4]
n23 = [-0.5, -1.0, 0.5, -0.5, -1.5, -2.5, 1.0, 0.0,
       -1.0, -2.0, -3.0, -0.5, -1.5, -2.5, -3.5, -4.5,
       -1.0, -2.0, -3.0, -4.0, -5.0, -2.5, -3.5, -4.5,
       -5.5, -6.5, -2.0, -3.0, -4.0, -5.0, -6.0, -7.0,
       -3.5, -4.5, -5.5, -6.5, -7.5, -1.5, -2.5, -3.5,
       -4.5, -5.5, -6.5, -3.0, -4.0, -5.0, -6.0, -7.0,
       -7.5]
n24 = [-0.4, 1.0, -0.2, 3.0, 1.8, 0.6, 5.5, 4.3,
       3.1, 1.9, 0.7, 4.0, 2.8, 1.6, 7.0, 5.8,
       4.6, 3.4, 2.2, 6.5, 5.3, 4.1, 2.9, 8.0,
       6.8, 5.6, 4.4, 3.2, 9.0, 7.8, 6.6, 5.4,
       4.2, 3.0, 8.5, 7.3, 6.1, 4.9, 3.7, 2.5,
       7.5, 6.3, 5.1, 3.9, 2.7, 9.0, 7.8, 6.6,
       6.0]

series = [
    (RED, n01), (GREEN, n02), (BLUE, n03), (MAG, n04), (CYAN, n05), (YEL, n06),
    (BLACK, n07), (DRED, n08), (LBLUE, n09), (RED, n10), (GREEN, n11), (NAVY, n12),
    (MAG, n13), (CYAN, n14), (YEL, n15), (DRED, n16), (BLUE, n17), (GREEN, n18),
    (RED, n19), (MAG, n20), (CYAN, n21), (LBLUE, n22), (YEL, n23), (RED, n24),
    (RED, s21), (DRED, s20), (GREEN, s32), (BLUE, s33), (MAG, s38), (CYAN, s22),
    (YEL, s43), (BLACK, s46), (RED, s19), (GREEN, s47), (LBLUE, s34), (MAG, s50),
    (CYAN, s18), (YEL, s36), (DRED, s49), (RED, s35), (BLUE, s42), (GREEN, s17),
    (MAG, s31), (CYAN, s37), (YEL, s24), (BLACK, s28), (RED, s41), (LBLUE, s16),
    (BLUE, s27), (MAG, s25), (CYAN, s29), (GREEN, s30), (DRED, s40), (RED, s48),
    (BLUE, s26), (LBLUE, s44), (CYAN, s45), (GREEN, s39), (BLUE, s15), (MAG, s14),
    (RED, s23), (DRED, s12), (YEL, s11), (MAG, s10), (NAVY, s51), (RED, s13),
    (RED, s05), (BLUE, s07), (LBLUE, s08), (MAG, s09), (NAVY, s06), (RED, s04),
    (GREEN, s03), (CYAN, s02), (YEL, s01),
]

FONT = "DejaVu Sans Mono"

p = figure(width=624, height=478, output_backend="svg", toolbar_location=None,
           x_range=Range1d(x_min, x_max), y_range=Range1d(y_min, y_max),
           min_border_left=43, min_border_right=12, min_border_top=31,
           min_border_bottom=28)
p.title = Title(text="Cumulative Z-Squared Value", align="center",
                text_font=FONT, text_font_size="11px", text_font_style="normal",
                standoff=16)
p.outline_line_color = "black"
p.outline_line_width = 1
p.xgrid.visible = False
p.ygrid.visible = False
p.background_fill_color = "white"
p.border_fill_color = "white"

for color, vals in series:
    p.line(hours, vals, line_color=color, line_width=1)

# mirrored inward ticks on the top and right frame edges
p.ray(x=x_ticks, y=[y_max] * len(x_ticks), length=5, length_units="screen",
      angle=-math.pi / 2, line_color="black", line_width=1)
p.ray(x=[x_max] * len(y_ticks), y=y_ticks, length=5, length_units="screen",
      angle=math.pi, line_color="black", line_width=1)

for ax in (p.xaxis[0], p.yaxis[0]):
    ax.major_tick_in = 5
    ax.major_tick_out = 0
    ax.minor_tick_line_color = None
    ax.axis_line_color = "black"
    ax.major_tick_line_color = "black"
    ax.major_label_text_font = FONT
    ax.major_label_text_font_size = "11px"
    ax.major_label_text_color = "black"
    ax.axis_label_text_font = FONT
    ax.axis_label_text_font_size = "11px"
    ax.axis_label_text_font_style = "normal"
    ax.axis_label_text_color = "black"
p.xaxis.ticker = FixedTicker(ticks=x_ticks)
p.yaxis.ticker = FixedTicker(ticks=y_ticks)
p.xaxis.axis_label = "Hour of Day"
p.yaxis.axis_label = "Cumulative (Z*Z)-1"
p.xaxis.major_label_standoff = 5
p.xaxis.axis_label_standoff = 1
p.yaxis.major_label_standoff = 6
p.yaxis.axis_label_standoff = 6

open("out.html", "w").write(file_html(p, INLINE))
